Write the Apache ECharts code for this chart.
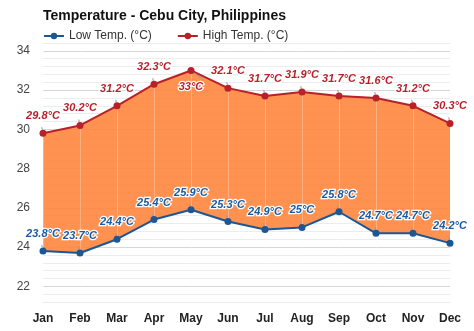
<!DOCTYPE html>
<html>
<head>
<meta charset="utf-8">
<script src="https://cdn.jsdelivr.net/npm/echarts@6/dist/echarts.min.js"></script>
<style>
  html, body { margin: 0; padding: 0; background: #fff; }
  #chart { width: 474px; height: 331px; }
</style>
</head>
<body>
<div id="chart"></div>
<script>
// Monthly temperatures, Cebu City (°C)
const months = ['Jan', 'Feb', 'Mar', 'Apr', 'May', 'Jun', 'Jul', 'Aug', 'Sep', 'Oct', 'Nov', 'Dec'];
const lowTemp = [23.8, 23.7, 24.4, 25.4, 25.9, 25.3, 24.9, 25, 25.8, 24.7, 24.7, 24.2];
const highTemp = [29.8, 30.2, 31.2, 32.3, 33, 32.1, 31.7, 31.9, 31.7, 31.6, 31.2, 30.3];

// band between low and high, stacked on top of the low curve
const bandWidth = highTemp.map((h, i) => +(h - lowTemp[i]).toFixed(2));

const chart = echarts.init(document.getElementById('chart'), null, { renderer: 'canvas' });

const fontFamily = 'Liberation Sans, Arial, sans-serif';
const labelFont = {
  fontFamily: fontFamily,
  fontSize: 11,
  fontWeight: 'bold',
  fontStyle: 'italic',
  textBorderColor: '#fff',
  textBorderWidth: 2.5
};

chart.setOption({
  animation: false,
  backgroundColor: '#fff',
  title: {
    text: 'Temperature - Cebu City, Philippines',
    left: 38,
    top: 4,
    textStyle: { fontFamily: fontFamily, fontSize: 14, fontWeight: 'bold', color: '#111' }
  },
  legend: {
    left: 38,
    top: 25,
    itemWidth: 20,
    itemHeight: 8,
    itemGap: 25,
    textStyle: { fontFamily: fontFamily, fontSize: 12, color: '#333' },
    data: ['Low Temp. (°C)', 'High Temp. (°C)']
  },
  grid: { left: 43, right: 24, top: 43, bottom: 29 },
  xAxis: {
    type: 'category',
    data: months,
    boundaryGap: false,
    z: 3,
    axisLine: { show: false },
    axisTick: { show: false },
    axisLabel: { margin: 11, fontFamily: fontFamily, fontSize: 12, fontWeight: 'bold', color: '#222' },
    splitLine: { show: true, lineStyle: { color: 'rgba(255,255,255,0.28)', width: 1 } }
  },
  yAxis: {
    type: 'value',
    min: 21.2,
    max: 34.4,
    interval: 0.4,
    z: 0,
    axisLine: { show: false },
    axisTick: { show: false },
    axisLabel: {
      margin: 13,
      fontFamily: fontFamily,
      fontSize: 12,
      color: '#444',
      formatter: function (v) {
        const r = Math.round(v);
        return (Math.abs(v - r) < 1e-6 && r % 2 === 0) ? String(r) : '';
      }
    },
    splitLine: {
      show: true,
      lineStyle: { color: ['#ececec', '#ececec', '#d6d6d6', '#ececec', '#ececec'], width: 1 }
    }
  },
  series: [
    {
      name: 'base',
      type: 'line',
      stack: 'band',
      data: lowTemp,
      symbol: 'none',
      silent: true,
      z: 1,
      lineStyle: { opacity: 0 }
    },
    {
      name: 'range',
      type: 'line',
      stack: 'band',
      data: bandWidth,
      symbol: 'none',
      silent: true,
      z: 1,
      lineStyle: { opacity: 0 },
      areaStyle: { color: '#ff853e', opacity: 0.9 }
    },
    {
      name: 'Low Temp. (°C)',
      type: 'line',
      data: lowTemp,
      z: 5,
      color: '#1c5793',
      symbol: 'circle',
      symbolSize: 7,
      lineStyle: { width: 2, color: '#1c5793' },
      label: Object.assign({
        show: true,
        position: 'top',
        distance: 8,
        color: '#1a5a9e',
        formatter: p => p.value + '°C'
      }, labelFont),
      labelLine: { show: true, lineStyle: { color: '#999', width: 1 } }
    },
    {
      name: 'High Temp. (°C)',
      type: 'line',
      data: highTemp.map((v, i) => i === 4
        ? { value: v, label: { position: 'bottom', distance: 7 } }
        : v),
      z: 5,
      color: '#b8202a',
      symbol: 'circle',
      symbolSize: 7,
      lineStyle: { width: 2, color: '#b8202a' },
      label: Object.assign({
        show: true,
        position: 'top',
        distance: 8,
        color: '#b81f2b',
        formatter: p => p.value + '°C'
      }, labelFont),
      labelLine: { show: true, lineStyle: { color: '#999', width: 1 } }
    }
  ]
});
</script>
</body>
</html>
